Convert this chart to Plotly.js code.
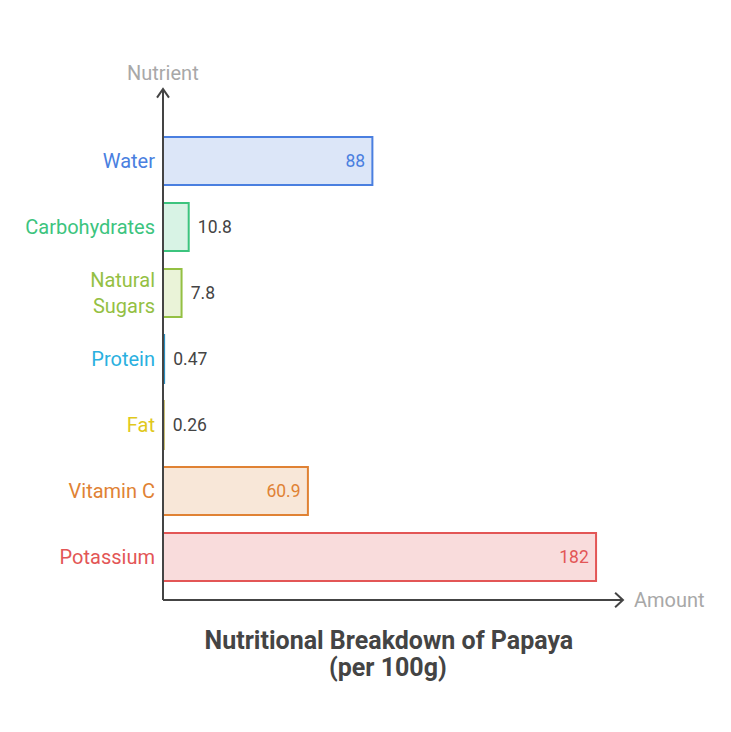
<!DOCTYPE html>
<html>
<head>
<meta charset="utf-8">
<script src="https://cdn.plot.ly/plotly-3.0.1.min.js"></script>
<style>html,body{margin:0;padding:0;background:#fff;}#chart{width:731px;height:732px;}</style>
</head>
<body>
<div id="chart"></div>
<script>
const categories = ["Water", "Carbohydrates", "Natural<br>Sugars", "Protein", "Fat", "Vitamin C", "Potassium"];
const values = [88, 10.8, 7.8, 0.47, 0.26, 60.9, 182];
const valueLabels = ["88", "10.8", "7.8", "0.47", "0.26", "60.9", "182"];
const lineColors = ["#4a7fe0", "#3cc47e", "#94c043", "#2a8fc0", "#a89820", "#e08234", "#e35656"];
const fillColors = ["#dce6f8", "#d8f3e5", "#eaf3d8", "#d4eef8", "#f8f2cc", "#f8e7d8", "#f9dcdc"];
const labelColors = ["#4a7fe0", "#3cc47e", "#94c043", "#2ab0e0", "#e0c81c", "#e08234", "#e35656"];
const textInside = [true, false, false, false, false, true, true];
const titleLine1 = "Nutritional Breakdown of Papaya";
const titleLine2 = "(per 100g)";

const idx = categories.map((_, i) => i);
const textPos = textInside.map(t => t ? "inside" : "outside");
const textColors = textInside.map((t, i) => t ? lineColors[i] : "#444444");
const shownText = valueLabels.map((v, i) => textInside[i] ? v + "\u00A0" : "\u00A0\u200A" + v);

const trace = {
  type: "bar",
  orientation: "h",
  y: idx,
  x: values,
  width: 0.727,
  marker: { color: fillColors, line: { color: lineColors, width: 2 } },
  text: shownText,
  textposition: textPos,
  insidetextanchor: "end",
  textfont: { family: "Roboto, sans-serif", size: 17.5, color: textColors },
  outsidetextfont: { family: "Roboto, sans-serif", size: 17.5, color: "#444444" },
  insidetextfont: { family: "Roboto, sans-serif", size: 17.5, color: textColors },
  cliponaxis: false,
  hoverinfo: "none"
};

const tickText = categories.map((c, i) => `<span style="color:${labelColors[i]}">${c}</span>`);

const layout = {
  width: 731, height: 732,
  margin: { l: 163, r: 109, t: 90, b: 132 },
  paper_bgcolor: "#ffffff", plot_bgcolor: "#ffffff",
  showlegend: false,
  font: { family: "Roboto, sans-serif", color: "#444444" },
  xaxis: { range: [0, 192.9], showgrid: false, zeroline: false, showline: false, showticklabels: false, ticks: "", fixedrange: true },
  yaxis: {
    range: [6.652, -1.076], tickmode: "array", tickvals: idx, ticktext: tickText,
    showgrid: false, zeroline: false, showline: false, ticks: "outside", ticklen: 3, tickcolor: "rgba(0,0,0,0)",
    tickfont: { family: "Roboto, sans-serif", size: 20 }, fixedrange: true
  },
  title: {
    text: "<b>" + titleLine1 + "</b>",
    font: { family: "Roboto, sans-serif", size: 25, color: "#444444" },
    x: 0.532, xanchor: "center", y: 0.1257, yanchor: "middle", yref: "container"
  },
  shapes: [
    { type: "line", xref: "paper", yref: "paper", x0: 0, y0: 0, x1: 0, y1: 1, line: { color: "#444444", width: 2 } },
    { type: "line", xref: "paper", yref: "paper", x0: 0, y0: 0, x1: 1, y1: 0, line: { color: "#444444", width: 2 } },
    { type: "path", xref: "paper", yref: "paper", path: "M -0.013 0.985 L 0 1.002 L 0.013 0.985", line: { color: "#444444", width: 2 } },
    { type: "path", xref: "paper", yref: "paper", path: "M 0.985 0.014 L 1.002 0 L 0.985 -0.014", line: { color: "#444444", width: 2 } }
  ],
  annotations: [
    { text: "<b>" + titleLine2 + "</b>", xref: "paper", yref: "paper", x: 0.491, y: -0.1333, xanchor: "center", yanchor: "middle", showarrow: false, font: { family: "Roboto, sans-serif", size: 25, color: "#444444" } },
    { text: "Nutrient", xref: "paper", yref: "paper", x: 0, y: 1, xanchor: "center", yanchor: "bottom", yshift: 3, showarrow: false, font: { family: "Roboto, sans-serif", size: 20, color: "#a8a8a8" } },
    { text: "Amount", xref: "paper", yref: "paper", x: 1, y: 0, xanchor: "left", yanchor: "middle", xshift: 10, showarrow: false, font: { family: "Roboto, sans-serif", size: 20, color: "#a8a8a8" } }
  ]
};

Plotly.newPlot("chart", [trace], layout, { displayModeBar: false, staticPlot: true });
</script>
</body>
</html>
